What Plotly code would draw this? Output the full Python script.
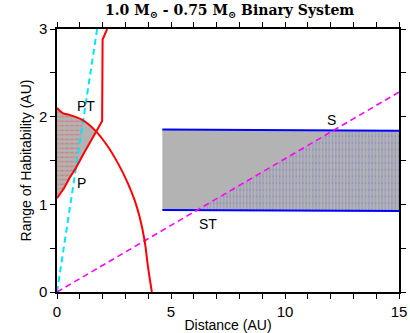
import numpy as np
import plotly.graph_objects as go

# red outer boundary (drops to zero near 4.2 AU)
outer_x = [0.0, 0.25, 0.55, 1.13, 1.72, 2.23, 2.67, 3.11, 3.40, 3.62, 3.84, 3.99, 4.16]
outer_y = [2.10, 2.04, 2.02, 1.96, 1.83, 1.66, 1.47, 1.24, 1.05, 0.86, 0.59, 0.29, 0.0]
# red inner boundary (rises and goes vertical near 2 AU)
inner_x = [0.0, 0.3, 0.55, 0.84, 1.13, 1.45, 1.72, 1.98, 2.0, 2.2]
inner_y = [1.07, 1.18, 1.30, 1.42, 1.56, 1.70, 1.83, 1.95, 2.88, 3.0]
# cyan and magenta stability lines
cyan_x = [0.0, 1.76]
cyan_y = [0.0, 3.0]
magenta_x = [0.0, 15.0]
magenta_y = [0.0, 2.28]
# S-type habitable band
band_x = [4.62, 10.0, 15.0]
band_top = [1.855, 1.848, 1.84]
band_bot = [0.935, 0.93, 0.924]

labels = ["PT", "P", "S", "ST"]
label_x = [1.25, 1.06, 12.04, 6.62]
label_y = [2.12, 1.24, 1.96, 0.78]

GRAY = "#b3b3b3"

fig = go.Figure()

# left lens (between the red curves)
ox, oy, ix, iy = map(np.array, (outer_x, outer_y, inner_x, inner_y))
xcut = 1.72
lens_x = list(ox[ox <= xcut]) + list(ix[ix <= xcut][::-1])
lens_y = list(oy[ox <= xcut]) + list(iy[ix <= xcut][::-1])
fig.add_trace(go.Scatter(x=lens_x, y=lens_y, fill="toself", fillcolor=GRAY,
                         mode="none", hoverinfo="skip"))

# red hatched part left of the cyan line
cs = cyan_y[1] / cyan_x[1]
xs = np.linspace(0, xcut, 200)
lo = np.interp(xs, ix, iy)
hi = np.interp(xs, ox, oy)
x_lo_end = xs[np.argmin(np.abs(cs * xs - lo))]
x_hi_end = xs[np.argmin(np.abs(cs * xs - hi))]
px = [x for x in xs if x <= x_lo_end]
qx = [x for x in xs[::-1] if x <= x_hi_end]
red_x = px + [x_lo_end, x_hi_end] + qx
red_y = list(np.interp(px, ix, iy)) + [cs * x_lo_end, cs * x_hi_end] + list(np.interp(qx, ox, oy))
fig.add_trace(go.Scatter(x=red_x, y=red_y, fill="toself", mode="none", hoverinfo="skip",
                         fillpattern=dict(shape="-", fgcolor="#e84848", bgcolor=GRAY,
                                          size=4.5, solidity=0.3)))
fig.add_trace(go.Scatter(x=red_x, y=red_y, fill="toself", mode="none", hoverinfo="skip",
                         fillpattern=dict(shape="|", fgcolor=GRAY, bgcolor="rgba(0,0,0,0)",
                                          size=5, solidity=0.4)))

# gray band
band_poly_x = band_x + band_x[::-1]
band_poly_y = band_bot + band_top[::-1]
fig.add_trace(go.Scatter(x=band_poly_x, y=band_poly_y, fill="toself", fillcolor=GRAY,
                         mode="none", hoverinfo="skip"))

# blue hatched part right of the magenta line
ms = magenta_y[1] / magenta_x[1]
bx = np.linspace(band_x[0], band_x[-1], 400)
bb = np.interp(bx, band_x, band_bot)
x0 = bx[np.argmin(np.abs(ms * bx - bb))]
sel = bx[bx >= x0]
blue_x = list(sel) + list(sel[::-1])
blue_y = list(np.interp(sel, band_x, band_bot)) + \
    list(np.minimum(np.interp(sel[::-1], band_x, band_top), ms * sel[::-1]))
fig.add_trace(go.Scatter(x=blue_x, y=blue_y, fill="toself", mode="none", hoverinfo="skip",
                         fillpattern=dict(shape="|", fgcolor="#4848e0", bgcolor=GRAY,
                                          size=3.3, solidity=0.3)))
fig.add_trace(go.Scatter(x=blue_x, y=blue_y, fill="toself", mode="none", hoverinfo="skip",
                         fillpattern=dict(shape="-", fgcolor=GRAY, bgcolor="rgba(0,0,0,0)",
                                          size=6.7, solidity=0.72)))

# lines
fig.add_trace(go.Scatter(x=band_x, y=band_top, mode="lines", line=dict(color="#0000ff", width=2)))
fig.add_trace(go.Scatter(x=band_x, y=band_bot, mode="lines", line=dict(color="#0000ff", width=2)))
fig.add_trace(go.Scatter(x=cyan_x, y=cyan_y, mode="lines",
                         line=dict(color="#00e5ff", width=2, dash="6px,4px")))
fig.add_trace(go.Scatter(x=magenta_x, y=magenta_y, mode="lines",
                         line=dict(color="#ff00ff", width=1.6, dash="6px,4px")))
fig.add_trace(go.Scatter(x=outer_x, y=outer_y, mode="lines", line_shape="spline",
                         line=dict(color="#ff0000", width=2)))
fig.add_trace(go.Scatter(x=inner_x, y=inner_y, mode="lines", line=dict(color="#ff0000", width=2)))

for t, x, y in zip(labels, label_x, label_y):
    fig.add_annotation(x=x, y=y, text=t, showarrow=False,
                       font=dict(family="Liberation Sans", size=14, color="black"))

axis = dict(showgrid=False, zeroline=False, showline=True, linecolor="black", linewidth=1.5,
            mirror="allticks", ticks="outside", ticklen=5, tickwidth=1.2, tickcolor="black",
            automargin=False,
            tickfont=dict(family="Liberation Sans", size=15, color="black"),
            title_font=dict(family="Liberation Sans", size=14, color="black"))

fig.update_xaxes(range=[0, 15], dtick=5, tick0=0,
                 minor=dict(dtick=1, ticks="outside", ticklen=5, tickcolor="black", tickwidth=1.2),
                 title_text="Distance (AU)", title_standoff=2, **axis)
fig.update_yaxes(range=[0, 3], dtick=1, tick0=0,
                 minor=dict(dtick=0.5, ticks="outside", ticklen=5, tickcolor="black", tickwidth=1.2),
                 title_text="Range of Habitability (AU)", title_standoff=4, **axis)

fig.update_layout(
    width=410, height=333,
    margin=dict(l=57, r=11, t=29, b=41),
    plot_bgcolor="white", paper_bgcolor="white",
    showlegend=False,
    title=dict(text="<b>1.0 M<sub>⊙</sub> - 0.75 M<sub>⊙</sub> Binary System</b>",
               x=0.56, xanchor="center", y=0.97, yanchor="middle",
               font=dict(family="DejaVu Serif", size=14, color="black")),
)

# page body has a default 8px margin; drop it so the figure sits at the corner
fig.write_html("out.html", config={"displayModeBar": False},
               post_script="document.body.style.margin='0px';")
